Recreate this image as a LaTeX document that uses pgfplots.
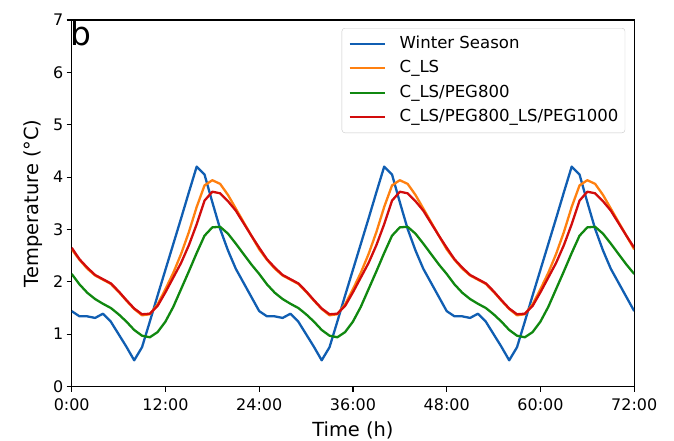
\documentclass[border=0pt]{standalone}
\usepackage{fontspec}
\setmainfont{DejaVu Sans}
\usepackage{pgfplots}
\usepackage{pgfplotstable}
\pgfplotsset{compat=1.18}

\definecolor{cWinter}{RGB}{16,94,178}
\definecolor{cLS}{RGB}{255,128,16}
\definecolor{cPEG}{RGB}{16,136,16}
\definecolor{cPEGLS}{RGB}{210,12,12}

% hourly temperatures over three days
\pgfplotstableread{
t  winter cls  peg  pegls
0  1.44 2.62 2.15 2.65
1  1.34 2.42 1.95 2.43
2  1.34 2.25 1.79 2.27
3  1.31 2.12 1.67 2.13
4  1.39 2.04 1.58 2.05
5  1.24 1.96 1.50 1.97
6  1.00 1.81 1.38 1.82
7  0.76 1.64 1.24 1.65
8  0.50 1.48 1.08 1.49
9  0.75 1.36 0.97 1.38
10 1.24 1.38 0.94 1.39
11 1.74 1.57 1.04 1.54
12 2.23 1.86 1.24 1.80
13 2.72 2.17 1.52 2.08
14 3.21 2.53 1.86 2.36
15 3.71 2.95 2.20 2.70
16 4.20 3.43 2.55 3.10
17 4.05 3.84 2.88 3.55
18 3.52 3.94 3.04 3.72
19 3.01 3.87 3.05 3.69
20 2.60 3.66 2.92 3.54
21 2.25 3.40 2.73 3.36
22 1.98 3.14 2.53 3.12
23 1.71 2.88 2.33 2.88
24 1.44 2.62 2.15 2.65
25 1.34 2.42 1.95 2.43
26 1.34 2.25 1.79 2.27
27 1.31 2.12 1.67 2.13
28 1.39 2.04 1.58 2.05
29 1.24 1.96 1.50 1.97
30 1.00 1.81 1.38 1.82
31 0.76 1.64 1.24 1.65
32 0.50 1.48 1.08 1.49
33 0.75 1.36 0.97 1.38
34 1.24 1.38 0.94 1.39
35 1.74 1.57 1.04 1.54
36 2.23 1.86 1.24 1.80
37 2.72 2.17 1.52 2.08
38 3.21 2.53 1.86 2.36
39 3.71 2.95 2.20 2.70
40 4.20 3.43 2.55 3.10
41 4.05 3.84 2.88 3.55
42 3.52 3.94 3.04 3.72
43 3.01 3.87 3.05 3.69
44 2.60 3.66 2.92 3.54
45 2.25 3.40 2.73 3.36
46 1.98 3.14 2.53 3.12
47 1.71 2.88 2.33 2.88
48 1.44 2.62 2.15 2.65
49 1.34 2.42 1.95 2.43
50 1.34 2.25 1.79 2.27
51 1.31 2.12 1.67 2.13
52 1.39 2.04 1.58 2.05
53 1.24 1.96 1.50 1.97
54 1.00 1.81 1.38 1.82
55 0.76 1.64 1.24 1.65
56 0.50 1.48 1.08 1.49
57 0.75 1.36 0.97 1.38
58 1.24 1.38 0.94 1.39
59 1.74 1.57 1.04 1.54
60 2.23 1.86 1.24 1.80
61 2.72 2.17 1.52 2.08
62 3.21 2.53 1.86 2.36
63 3.71 2.95 2.20 2.70
64 4.20 3.43 2.55 3.10
65 4.05 3.84 2.88 3.55
66 3.52 3.94 3.04 3.72
67 3.01 3.87 3.05 3.69
68 2.60 3.66 2.92 3.54
69 2.25 3.40 2.73 3.36
70 1.98 3.14 2.53 3.12
71 1.71 2.88 2.33 2.88
72 1.44 2.62 2.15 2.65
}\temps

\begin{document}
\begin{tikzpicture}
\path[use as bounding box] (-71.7bp,-54.5bp) rectangle (602.3bp,386.5bp);
\begin{axis}[
  scale only axis,
  width=562.5bp, height=366.5bp,
  xmin=0, xmax=72, ymin=0, ymax=7,
  xtick={0,12,24,36,48,60,72},
  xticklabels={0:00,12:00,24:00,36:00,48:00,60:00,72:00},
  ytick={0,1,2,3,4,5,6,7},
  /pgf/number format/assume math mode=true,
  tick pos=left,
  tick align=outside,
  major tick length=5bp,
  axis line style={line width=1.1bp},
  every tick/.style={line width=1.1bp, black},
  ticklabel style={font=\fontsize{16}{19}\selectfont},
  xticklabel style={yshift=-4bp},
  xlabel={Time (h)},
  ylabel={Temperature (°C)},
  label style={font=\fontsize{19.5}{23}\selectfont},
  xlabel style={at={(axis description cs:0.5,-0.1187)}, anchor=center},
  ylabel style={at={(axis description cs:-0.0684,0.5)}, anchor=center},
  legend cell align=left,
  legend image code/.code={\draw[#1] (0bp,0bp) -- (35bp,0bp);},
  legend style={
    at={(axis description cs:1,1)}, anchor=north east,
    xshift=-9bp, yshift=-8bp,
    draw=black!22, rounded corners=3bp, fill=white,
    font=\fontsize{16.6}{20}\selectfont,
    inner xsep=6.5bp, inner ysep=3.3bp,
    nodes={inner xsep=0bp, text height=12bp, text depth=3.5bp, inner ysep=4.5bp},
    /tikz/every odd column/.append style={column sep=14bp},
  },
  every axis plot/.append style={line width=2.3bp, line join=round},
]
\addplot[cWinter] table[x=t, y=winter] {\temps};
\addlegendentry{Winter Season}
\addplot[cLS] table[x=t, y=cls] {\temps};
\addlegendentry{C\_LS}
\addplot[cPEG] table[x=t, y=peg] {\temps};
\addlegendentry{C\_LS/PEG800}
\addplot[cPEGLS] table[x=t, y=pegls] {\temps};
\addlegendentry{C\_LS/PEG800\_LS/PEG1000}
\node[anchor=base west, inner sep=0pt, xshift=-1.4bp, yshift=-25bp,
  font=\fontsize{33}{38}\selectfont] at (rel axis cs:0,1) {b};
\end{axis}
\end{tikzpicture}
\end{document}
